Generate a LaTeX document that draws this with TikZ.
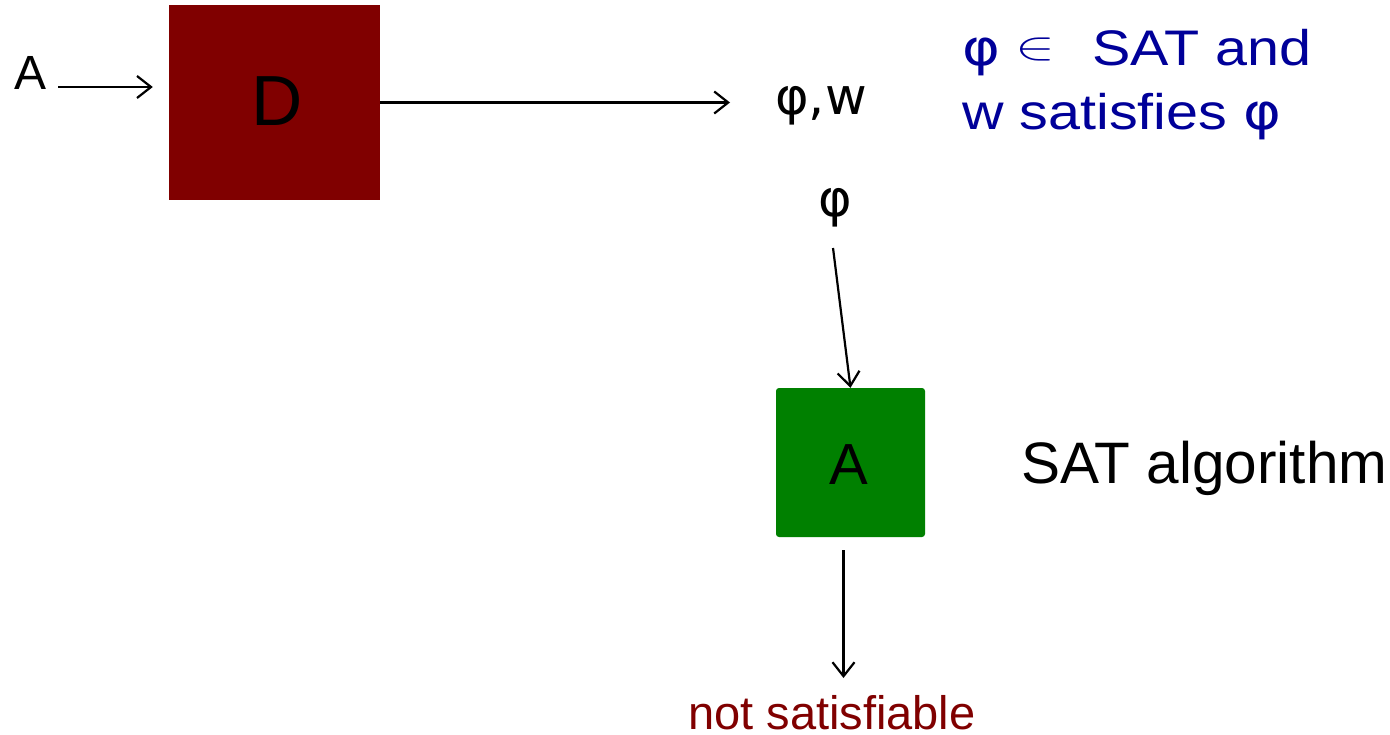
\documentclass[tikz,border=0pt]{standalone}
\usepackage{fontspec}
\usepackage{graphicx}
\setmainfont{Liberation Sans}
\newfontfamily\phifont{DejaVu Sans}
\usetikzlibrary{arrows.meta,calc}
\definecolor{boxred}{HTML}{800000}
\definecolor{boxgreen}{HTML}{008000}
\definecolor{claimblue}{HTML}{000099}
\newcommand{\fsz}[1]{\fontsize{#1}{#1}\selectfont}
\newcommand{\bigin}{\raisebox{6pt}{\fontsize{10}{12}\selectfont\scalebox{5.2}[4]{$\in$}}}
\begin{document}
\begin{tikzpicture}[x=1pt,y=-1pt,
  arr/.style={line width=2.2pt,-{Straight Barb[length=14pt,width=22pt,line width=2.2pt]}},
  lbl/.style={inner sep=0pt,anchor=base west}]
\useasboundingbox (0,0) rectangle (1390,735);

% machine D fed by A
\node[lbl] (inA) at (14,90) {\fsz{48}A};
\node[fill=boxred,inner sep=0pt,minimum width=211pt,minimum height=195pt] (D) at (274.5,102.5) {};
\node[lbl] (Dname) at (251,126) {\fsz{71}D};

% output of D
\node[lbl] (pw) at (775,115) {\fsz{51}\phifont φ,w};
\node[lbl,claimblue] (claimA) at (962,66)
  {\scalebox{1.15}[1]{\fsz{50}{\phifont φ}\hspace{13.4pt}\bigin\hspace{31.9pt}SAT and}};
\node[lbl,claimblue] (claimB) at (962,130)
  {\scalebox{1.15}[1]{\fsz{50}w satisfies {\phifont φ}}};

% SAT algorithm A
\node[lbl] (phi) at (818,217) {\fsz{51}\phifont φ};
\node[fill=boxgreen,rounded corners=3pt,inner sep=0pt,minimum width=149pt,minimum height=149pt] (Abox) at (850.5,462.5) {};
\node[lbl] (Aname) at (829,484) {\fsz{58}A};
\node[lbl] (alg) at (1021,483) {\fsz{58.5}SAT algorithm};
\node[lbl,text=boxred] (ns) at (688,729) {\fsz{47}not satisfiable};

% connectors
\draw[arr] ([xshift=12pt,yshift=3pt]inA.base east) -- ([xshift=-16pt,yshift=3pt]D.west |- inA.base east);
\draw[arr] (D.east) -- ([xshift=-45pt]pw.west |- D.east);
\draw[arr] ([xshift=-2pt,yshift=-31pt]phi.base) -- (Abox.north);
\draw[arr] ([xshift=-7pt,yshift=-13pt]Abox.south) -- ([xshift=-7pt,yshift=51pt]Abox.south |- ns.base);
\end{tikzpicture}
\end{document}
